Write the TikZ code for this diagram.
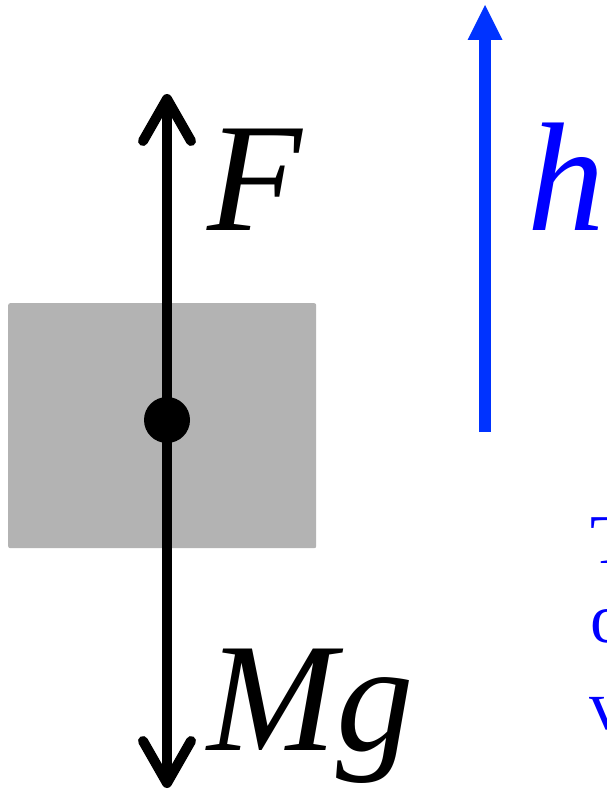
\documentclass[tikz,border=0pt]{standalone}
\usepackage{fontspec}
\setmainfont{Liberation Serif}
\definecolor{boxgray}{RGB}{179,179,179}
\definecolor{harrow}{RGB}{0,51,255}
\definecolor{txtblue}{RGB}{0,0,255}
\begin{document}
\begin{tikzpicture}[x=1pt,y=-1pt,
  force/.style={line width=10pt, black, line cap=round, line join=round},
  biglabel/.style={anchor=base west, inner sep=0pt, font=\fontsize{155}{155}\selectfont\itshape},
  sidetext/.style={anchor=base west, inner sep=0pt, text=txtblue, font=\fontsize{70}{70}\selectfont}]
\useasboundingbox (0,0) rectangle (606,789);
% block
\node[fill=boxgray, rounded corners=2pt, minimum width=308pt, minimum height=245pt, inner sep=0pt, anchor=north west] (box) at (8,303) {};
% force line
\coordinate (ftip) at (167,99);
\coordinate (mtip) at (167,783);
\draw[force, line cap=butt] (ftip) -- (mtip);
\draw[force] ([xshift=-24pt,yshift=-42pt]ftip) -- (ftip) -- ([xshift=24pt,yshift=-42pt]ftip);
\draw[force] ([xshift=-24pt,yshift=42pt]mtip) -- (mtip) -- ([xshift=24pt,yshift=42pt]mtip);
\node[circle, fill=black, minimum size=46pt, inner sep=0pt] (dot) at (167,420) {};
% labels
\node[biglabel] (F) at (207,230) {F};
\node[biglabel] (Mg) at (207,750) {Mg};
\node[biglabel, text=txtblue] (h) at (527,230) {h};
% height arrow
\coordinate (hbot) at (485,432);
\coordinate (htop) at (485,40);
\draw[line width=12pt, harrow] (hbot) -- (htop);
\fill[harrow] ([xshift=-17.5pt]htop) -- (485,5) -- ([xshift=17.5pt]htop) -- cycle;
% cut-off side text
\node[sidetext] (t1) at (590,563) {T};
\node[sidetext] (t2) at (590,642) {o};
\node[sidetext] (t3) at (589,729) {v};
\end{tikzpicture}
\end{document}
